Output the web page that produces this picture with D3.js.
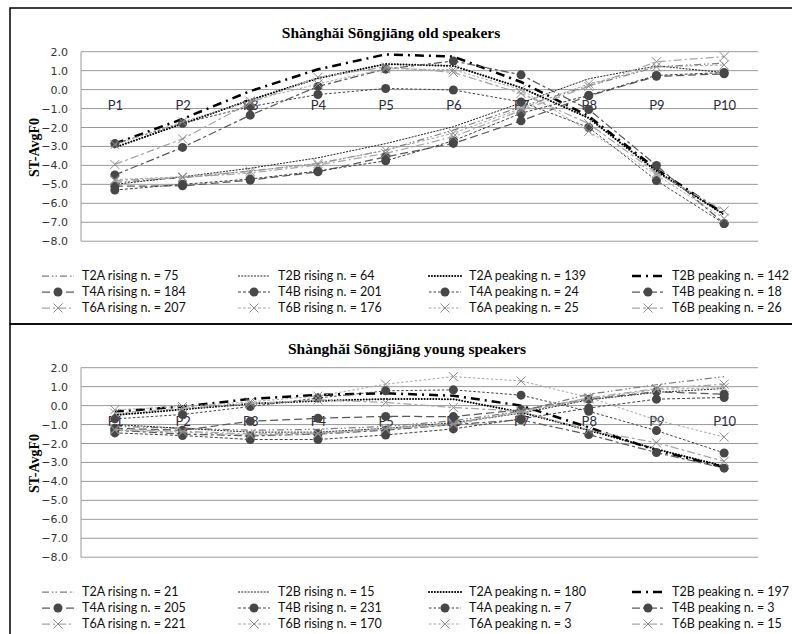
<!DOCTYPE html>
<html>
<head>
<meta charset="utf-8">
<script src="https://cdn.jsdelivr.net/npm/d3@7"></script>
<style>
  body { margin: 0; background: #fff; }
  svg { display: block; }
</style>
</head>
<body>
<svg id="chart" width="792" height="634"></svg>
<script>
// categories + ticks
const categories = ['P1', 'P2', 'P3', 'P4', 'P5', 'P6', 'P7', 'P8', 'P9', 'P10'];
const yTicks = [2, 1, 0, -1, -2, -3, -4, -5, -6, -7, -8];
const seriesNames = ['T2A rising', 'T2B rising', 'T2A peaking', 'T2B peaking',
  'T4A rising', 'T4B rising', 'T4A peaking', 'T4B peaking',
  'T6A rising', 'T6B rising', 'T6A peaking', 'T6B peaking'];
const oldCounts = [75, 64, 139, 142, 184, 201, 24, 18, 207, 176, 25, 26];
const youngCounts = [21, 15, 180, 197, 205, 231, 7, 3, 221, 170, 3, 15];

// old speakers
const oldT2ARising  = [-4.9, -4.65, -4.3, -3.9, -3.2, -2.14, -0.9, 0.2, 1.2, 1.4];
const oldT2BRising  = [-5.0, -4.6, -4.15, -3.6, -2.85, -1.96, -0.7, 0.57, 1.25, 0.9];
const oldT2APeaking = [-3.05, -1.8, -0.55, 0.6, 1.35, 1.25, 0.1, -1.5, -4.3, -6.6];
const oldT2BPeaking = [-2.85, -1.55, -0.08, 1.07, 1.86, 1.74, 0.4, -1.4, -4.2, -6.55];
const oldT4ARising  = [-5.1, -5.08, -4.78, -4.34, -3.55, -2.84, -1.65, -0.33, 0.7, 0.83];
const oldT4BRising  = [-5.3, -5.0, -4.72, -4.3, -3.76, -2.7, -1.25, -0.3, 0.75, 0.9];
const oldT4APeaking = [-2.85, -1.78, -0.9, -0.26, 0.06, -0.02, -0.65, -2.0, -4.8, -7.07];
const oldT4BPeaking = [-4.5, -3.05, -1.35, 0.17, 1.08, 1.51, 0.78, -1.05, -4.0, -7.07];
const oldT6ARising  = [-4.8, -4.64, -4.4, -3.98, -3.37, -2.49, -1.1, 0.17, 1.47, 1.74];
const oldT6BRising  = [-4.75, -4.6, -4.3, -3.9, -3.2, -2.3, -1.0, 0.3, 1.2, 1.3];
const oldT6APeaking = [-2.9, -1.7, -0.6, 0.3, 1.1, 1.05, 0.0, -2.2, -4.5, -6.8];
const oldT6BPeaking = [-3.95, -2.6, -0.7, 0.65, 1.2, 0.91, -0.2, -1.8, -4.4, -6.4];

// young speakers
const youngT2ARising  = [-1.1, -1.2, -1.3, -1.25, -1.1, -0.8, -0.3, 0.6, 1.1, 1.53];
const youngT2BRising  = [-1.0, -1.2, -1.4, -1.4, -1.2, -0.9, -0.4, 0.3, 0.7, 0.9];
const youngT2APeaking = [-0.5, -0.2, 0.1, 0.25, 0.35, 0.34, -0.35, -1.3, -2.3, -3.2];
const youngT2BPeaking = [-0.32, -0.05, 0.35, 0.57, 0.65, 0.52, 0.0, -1.15, -2.36, -3.25];
const youngT4ARising  = [-1.2, -1.3, -0.83, -0.67, -0.57, -0.58, -0.22, 0.34, 0.73, 0.6];
const youngT4BRising  = [-1.44, -1.58, -1.79, -1.79, -1.55, -1.23, -0.7, -0.13, 0.34, 0.43];
const youngT4APeaking = [-0.7, -0.47, -0.05, 0.4, 0.78, 0.83, 0.55, -0.3, -1.32, -2.5];
const youngT4BPeaking = [-1.3, -1.5, -1.6, -1.5, -1.3, -1.0, -0.75, -1.53, -2.48, -3.3];
const youngT6ARising  = [-1.26, -1.35, -1.5, -1.45, -1.2, -0.95, -0.3, 0.4, 0.9, 1.13];
const youngT6BRising  = [-1.3, -1.4, -1.55, -1.5, -1.25, -1.0, -0.35, 0.35, 0.85, 0.95];
const youngT6APeaking = [-0.22, -0.05, 0.2, 0.5, 1.13, 1.53, 1.3, 0.43, -0.76, -1.66];
const youngT6BPeaking = [-0.4, -0.15, 0.1, 0.3, 0.17, -0.1, -0.3, -1.3, -1.96, -2.94];

const oldSeries = [oldT2ARising, oldT2BRising, oldT2APeaking, oldT2BPeaking,
  oldT4ARising, oldT4BRising, oldT4APeaking, oldT4BPeaking,
  oldT6ARising, oldT6BRising, oldT6APeaking, oldT6BPeaking];
const youngSeries = [youngT2ARising, youngT2BRising, youngT2APeaking, youngT2BPeaking,
  youngT4ARising, youngT4BRising, youngT4APeaking, youngT4BPeaking,
  youngT6ARising, youngT6BRising, youngT6APeaking, youngT6BPeaking];

// excel-ish grayscale line styles
const styles = {
  'T2A rising':  { color: '#7f7f7f', width: 1.25, dash: '7,3,1.5,2,1.5,3', marker: null },
  'T2B rising':  { color: '#262626', width: 1, dash: '2,1.2', marker: null },
  'T2A peaking': { color: '#000', width: 2, dash: '0.1,2.8', cap: 'round', marker: null },
  'T2B peaking': { color: '#000', width: 2.5, dash: '9,5,2,5', marker: null },
  'T4A rising':  { color: '#595959', width: 1.25, dash: '8,4', marker: 'dot' },
  'T4B rising':  { color: '#404040', width: 1, dash: '3,2', marker: 'dot' },
  'T4A peaking': { color: '#404040', width: 1, dash: '2.5,2', marker: 'dot' },
  'T4B peaking': { color: '#595959', width: 1.25, dash: '8,3,3,3', marker: 'dot' },
  'T6A rising':  { color: '#a6a6a6', width: 1.25, dash: '8,3,2,3', marker: 'x' },
  'T6B rising':  { color: '#a6a6a6', width: 1, dash: '3,2', marker: 'x' },
  'T6A peaking': { color: '#a6a6a6', width: 1, dash: '2.5,2', marker: 'x' },
  'T6B peaking': { color: '#a6a6a6', width: 1.25, dash: '8,3,3,3', marker: 'x' }
};

const svg = d3.select('#chart');

function drawMarker(g, type, cx, cy) {
  if (type === 'dot') {
    g.append('circle')
      .attr('cx', cx).attr('cy', cy).attr('r', 4.5)
      .attr('fill', '#474747');
  } else if (type === 'x') {
    const s = 4.5;
    g.append('path')
      .attr('d', `M${cx - s},${cy - s}L${cx + s},${cy + s}M${cx - s},${cy + s}L${cx + s},${cy - s}`)
      .attr('stroke', '#8c8c8c')
      .attr('stroke-width', 1)
      .attr('fill', 'none');
  }
}

function drawPanel(top, title, titleX, series, counts) {
  const g = svg.append('g').attr('transform', `translate(0,${top})`);
  const plotTop = 43.7, plotBottom = 233.2, plotLeft = 81, plotRight = 758;

  // panel frame
  g.append('rect')
    .attr('x', 10).attr('y', 0)
    .attr('width', 800).attr('height', 316)
    .attr('fill', 'none')
    .attr('stroke', '#000')
    .attr('stroke-width', 1.5);

  const x = d3.scalePoint()
    .domain(categories)
    .range([plotLeft, plotRight])
    .padding(0.5);

  const y = d3.scaleLinear()
    .domain([-8, 2])
    .range([plotBottom, plotTop]);

  // grid
  g.append('g')
    .selectAll('line')
    .data(yTicks)
    .enter()
    .append('line')
    .attr('x1', plotLeft).attr('x2', plotRight)
    .attr('y1', d => y(d)).attr('y2', d => y(d))
    .attr('stroke', '#9a9a9a')
    .attr('stroke-width', 1);

  g.append('line')
    .attr('x1', plotLeft).attr('x2', plotLeft)
    .attr('y1', plotTop).attr('y2', plotBottom)
    .attr('stroke', '#9a9a9a');

  // y axis labels
  const yAxis = d3.axisLeft(y)
    .tickValues(yTicks)
    .tickSize(0)
    .tickPadding(13)
    .tickFormat(d3.format('.1f'));
  const ya = g.append('g')
    .attr('transform', `translate(${plotLeft},0)`)
    .call(yAxis);
  ya.select('.domain').remove();
  ya.selectAll('text')
    .style('font-family', '"DejaVu Sans", sans-serif')
    .style('font-size', '11px')
    .style('fill', '#333');

  // category labels sit on the -1.0 line
  const xAxis = d3.axisBottom(x).tickSize(0).tickPadding(0);
  const xa = g.append('g')
    .attr('transform', `translate(0,${y(-1) - 8})`)
    .call(xAxis);
  xa.select('.domain').remove();
  xa.selectAll('text')
    .style('font-family', 'Lato, sans-serif')
    .style('font-size', '13px')
    .style('fill', '#2b2b3a');

  g.append('text')
    .attr('x', titleX)
    .attr('y', 30)
    .attr('text-anchor', 'middle')
    .style('font-family', '"Liberation Serif", serif')
    .style('font-weight', '700')
    .style('font-size', '15.5px')
    .text(title);

  g.append('text')
    .attr('transform', `translate(39,${(plotTop + plotBottom) / 2 + 1}) rotate(-90)`)
    .attr('text-anchor', 'middle')
    .style('font-family', '"Liberation Serif", serif')
    .style('font-weight', '700')
    .style('font-size', '14px')
    .text('ST-AvgF0');

  // series
  const line = d3.line()
    .x((d, i) => x(categories[i]))
    .y(d => y(d));

  seriesNames.forEach((name, si) => {
    const st = styles[name];
    const sg = g.append('g');
    sg.append('path')
      .datum(series[si])
      .attr('d', line)
      .attr('fill', 'none')
      .attr('stroke', st.color)
      .attr('stroke-width', st.width)
      .attr('stroke-dasharray', st.dash)
      .attr('stroke-linecap', st.cap || 'butt');
    if (st.marker) {
      series[si].forEach((v, i) => drawMarker(sg, st.marker, x(categories[i]), y(v)));
    }
  });

  // legend
  const colX = [82, 278, 469, 672];
  const rowY = [268, 284, 300];
  seriesNames.forEach((name, si) => {
    const st = styles[name];
    const lx = colX[si % 4], ly = rowY[Math.floor(si / 4)];
    const lg = g.append('g');
    lg.append('line')
      .attr('x1', lx - 40).attr('x2', lx - 8)
      .attr('y1', ly).attr('y2', ly)
      .attr('stroke', st.color)
      .attr('stroke-width', st.width)
      .attr('stroke-dasharray', st.dash)
      .attr('stroke-linecap', st.cap || 'butt');
    if (st.marker) drawMarker(lg, st.marker, lx - 24, ly);
    lg.append('text')
      .attr('x', lx)
      .attr('y', ly + 4)
      .style('font-family', 'Lato, sans-serif')
      .style('font-size', '12.5px')
      .style('fill', '#111')
      .text(`${name} n. = ${counts[si]}`);
  });
}

drawPanel(8, 'Shànghǎi Sōngjiāng old speakers', 391, oldSeries, oldCounts);
drawPanel(324, 'Shànghǎi Sōngjiāng young speakers', 407, youngSeries, youngCounts);
</script>
</body>
</html>
